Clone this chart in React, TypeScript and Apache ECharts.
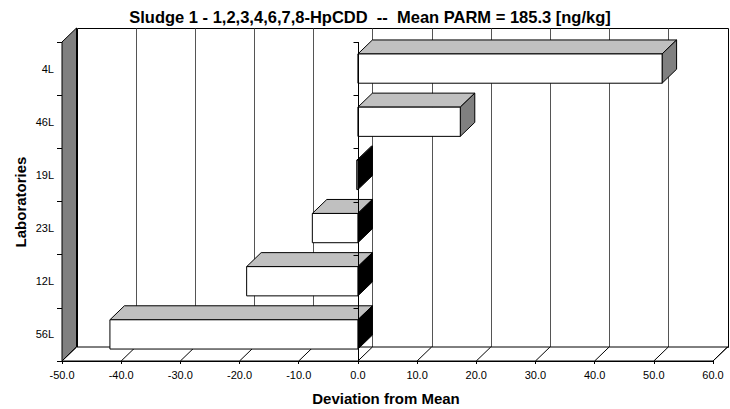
import React, { useEffect, useRef } from 'react';
import * as echarts from 'echarts';

const titleText = 'Sludge 1 - 1,2,3,4,6,7,8-HpCDD  --  Mean PARM = 185.3 [ng/kg]';
const xAxisName = 'Deviation from Mean';
const yAxisName = 'Laboratories';
const laboratories = ['4L', '46L', '19L', '23L', '12L', '56L'];
const deviations = [51.4, 17.3, -0.2, -7.7, -18.8, -41.9];
const xTickValues = [-50, -40, -30, -20, -10, 0, 10, 20, 30, 40, 50, 60];
const xMin = -50;
const xMax = 60;
const xStep = 10;

const DX = 14.5;
const DY = -14;
const FONT = '"Liberation Sans", Arial, sans-serif';

const px = (v: number) => Math.round(v) + 0.5;

export default function App() {
  const ref = useRef<HTMLDivElement>(null);
  useEffect(() => {
    if (!ref.current) return;
    const chart = echarts.init(ref.current, null, { renderer: 'svg' });
    const nCat = laboratories.length;

    const frameSeries: any = {
      type: 'custom',
      coordinateSystem: 'cartesian2d',
      clip: false,
      silent: true,
      z: 1,
      data: [[0, 0]],
      encode: { x: 0, y: 1 },
      renderItem: (_p: any, api: any) => {
        const bandH = api.size([0, 1])[1];
        const yT = api.coord([xMin, 0])[1] - bandH / 2;
        const yB = api.coord([xMin, nCat - 1])[1] + bandH / 2;
        const xL = api.coord([xMin, 0])[0];
        const xR = api.coord([xMax, 0])[0];
        const children: any[] = [];
        children.push({
          type: 'rect',
          shape: { x: px(xL + DX), y: px(yT + DY), width: Math.round(xR - xL), height: Math.round(yB - yT) },
          style: { fill: '#ffffff', stroke: '#000', lineWidth: 1 },
        });
        xTickValues.forEach((v) => {
          if (v === xMin || v === xMax) return;
          const x = px(api.coord([v, 0])[0] + DX);
          children.push({
            type: 'line',
            shape: { x1: x, y1: px(yT + DY), x2: x, y2: px(yB + DY) },
            style: { stroke: '#555', lineWidth: 1 },
          });
        });
        children.push({
          type: 'polygon',
          shape: { points: [[xL, yT], [xL + DX, yT + DY], [xL + DX, yB + DY], [xL, yB]] },
          style: { fill: '#808080', stroke: '#000', lineWidth: 1 },
        });
        children.push({
          type: 'polygon',
          shape: { points: [[xL, yB], [xL + DX, yB + DY], [xR + DX, yB + DY], [xR, yB]] },
          style: { fill: '#ffffff', stroke: '#000', lineWidth: 1 },
        });
        xTickValues.forEach((v) => {
          const x = api.coord([v, 0])[0];
          children.push({
            type: 'line',
            shape: { x1: x, y1: yB, x2: x + DX, y2: yB + DY },
            style: { stroke: '#000', lineWidth: 1 },
          });
        });
        return { type: 'group', children };
      },
    };

    const barSeries: any = {
      type: 'custom',
      coordinateSystem: 'cartesian2d',
      clip: false,
      z: 2,
      data: deviations.map((v, i) => [v, i]),
      encode: { x: 0, y: 1 },
      renderItem: (_p: any, api: any) => {
        const v = api.value(0);
        const i = api.value(1);
        const bandH = api.size([0, 1])[1];
        const c = api.coord([0, i]);
        const e = api.coord([v, i]);
        const h = bandH * 0.55;
        const y0 = c[1] - h / 2;
        const y1 = c[1] + h / 2;
        const xa = Math.min(c[0], e[0]);
        const xb = Math.max(c[0], e[0]);
        return {
          type: 'group',
          children: [
            {
              type: 'polygon',
              shape: { points: [[xa, y0], [xa + DX, y0 + DY], [xb + DX, y0 + DY], [xb, y0]] },
              style: { fill: '#c0c0c0', stroke: '#000', lineWidth: 1 },
            },
            {
              type: 'polygon',
              shape: { points: [[xb, y0], [xb + DX, y0 + DY], [xb + DX, y1 + DY], [xb, y1]] },
              style: { fill: v >= 0 ? '#808080' : '#000000', stroke: '#000', lineWidth: 1 },
            },
            {
              type: 'rect',
              shape: { x: xa, y: y0, width: xb - xa, height: h },
              style: { fill: '#ffffff', stroke: '#000', lineWidth: 1 },
            },
          ],
        };
      },
    };

    const zeroSeries: any = {
      type: 'custom',
      coordinateSystem: 'cartesian2d',
      clip: false,
      silent: true,
      z: 3,
      data: [[0, 0]],
      encode: { x: 0, y: 1 },
      renderItem: (_p: any, api: any) => {
        const bandH = api.size([0, 1])[1];
        const yT = api.coord([0, 0])[1] - bandH / 2;
        const x0 = px(api.coord([0, 0])[0]);
        const children: any[] = [];
        children.push({
          type: 'line',
          shape: { x1: x0, y1: yT, x2: x0, y2: yT + bandH * nCat },
          style: { stroke: '#000', lineWidth: 1 },
        });
        for (let k = 0; k <= nCat; k++) {
          const y = px(yT + bandH * k);
          children.push({
            type: 'line',
            shape: { x1: x0 - 5, y1: y, x2: x0, y2: y },
            style: { stroke: '#000', lineWidth: 1 },
          });
        }
        return { type: 'group', children };
      },
    };

    chart.setOption({
      animation: false,
      backgroundColor: '#ffffff',
      grid: { left: 62, right: 17, top: 42, bottom: 48, containLabel: false },
      xAxis: {
        type: 'value',
        min: xMin,
        max: xMax,
        interval: xStep,
        axisLine: { show: true, onZero: false, lineStyle: { color: '#000', width: 1 } },
        axisTick: { show: true, length: 3, lineStyle: { color: '#000' } },
        axisLabel: {
          formatter: (v: number) => v.toFixed(1),
          fontSize: 11,
          fontFamily: FONT,
          color: '#000',
          margin: 8,
        },
        splitLine: { show: false },
      },
      yAxis: {
        type: 'category',
        data: laboratories,
        inverse: true,
        axisLine: { show: true, onZero: false, lineStyle: { color: '#000', width: 1 } },
        axisTick: { show: true, length: 5, lineStyle: { color: '#000' } },
        axisLabel: { fontSize: 11, fontFamily: FONT, color: '#000', margin: 8 },
        splitLine: { show: false },
      },
      graphic: [
        {
          type: 'text',
          x: 370,
          y: 17,
          style: {
            text: titleText,
            fontSize: 16.5,
            fontWeight: 'bold',
            fontFamily: FONT,
            fill: '#000',
            align: 'center',
            verticalAlign: 'middle',
            textAlign: 'center',
            textVerticalAlign: 'middle',
          },
        },
        {
          type: 'text',
          x: 386,
          y: 398,
          style: {
            text: xAxisName,
            fontSize: 15,
            fontWeight: 'bold',
            fontFamily: FONT,
            fill: '#000',
            align: 'center',
            verticalAlign: 'middle',
            textAlign: 'center',
            textVerticalAlign: 'middle',
          },
        },
        {
          type: 'text',
          x: 20,
          y: 202,
          rotation: Math.PI / 2,
          style: {
            text: yAxisName,
            fontSize: 15,
            fontWeight: 'bold',
            fontFamily: FONT,
            fill: '#000',
            align: 'center',
            verticalAlign: 'middle',
            textAlign: 'center',
            textVerticalAlign: 'middle',
          },
        },
      ],
      series: [frameSeries, barSeries, zeroSeries],
    });
    return () => chart.dispose();
  }, []);
  return (
    <div
      ref={ref}
      style={{ position: 'fixed', left: 0, top: 0, width: 730, height: 409, background: '#fff' }}
    />
  );
}
